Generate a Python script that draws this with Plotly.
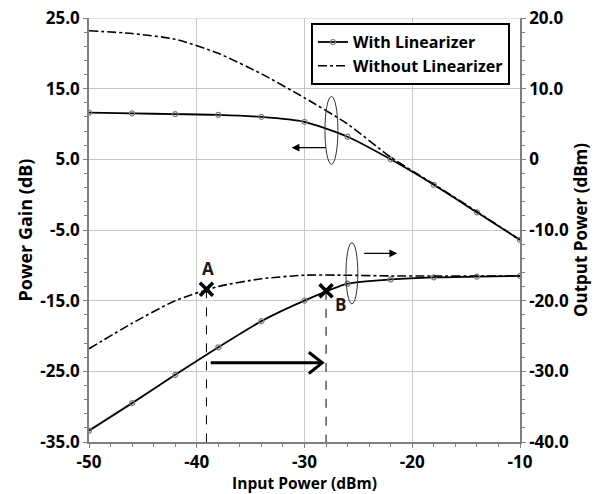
import plotly.graph_objects as go

# ---- data ----
input_power = [-50, -46, -42, -38, -34, -30, -26, -22, -18, -14, -10]

gain_with = [11.6, 11.5, 11.4, 11.3, 11.0, 10.3, 8.2, 5.0, 1.4, -2.5, -6.4]
gain_without = [23.2, 22.8, 22.0, 20.0, 17.1, 13.7, 10.0, 5.3, 1.5, -2.4, -6.4]

out_with = [-38.4, -34.5, -30.5, -26.6, -22.9, -20.0, -17.6, -17.0, -16.7, -16.6, -16.5]
out_without = [-26.8, -23.2, -20.0, -18.0, -16.9, -16.4, -16.4, -16.5, -16.5, -16.5, -16.5]

point_labels = ["A", "B"]
point_x = [-39.1, -28.0]
point_y = [-18.4, -18.6]

left_ticks = [25, 15, 5, -5, -15, -25, -35]
left_ticktext = ["25.0", "15.0", "5.0", "-5.0", "-15.0", "-25.0", "-35.0"]
right_ticks = [20, 10, 0, -10, -20, -30, -40]
right_ticktext = ["20.0", "10.0", "0", "-10.0", "-20.0", "-30.0", "-40.0"]
x_ticks = [-50, -40, -30, -20, -10]

FONT = "Open Sans"
TICK_SIZE = 17
fig = go.Figure()

# Gain curves (left axis)
fig.add_trace(go.Scatter(
    x=input_power, y=gain_with, name="<b>With Linearizer</b>", mode="lines+markers",
    line=dict(color="black", width=1.8, shape="spline", smoothing=0.6),
    marker=dict(symbol="circle-open", size=5, color="#7a7a7a", line=dict(width=1.2)),
    yaxis="y"))
fig.add_trace(go.Scatter(
    x=input_power, y=gain_without, name="<b>Without Linearizer</b>", mode="lines",
    line=dict(color="black", width=1.6, dash="dashdot", shape="spline", smoothing=0.6),
    yaxis="y"))

# Output power curves (right axis)
fig.add_trace(go.Scatter(
    x=input_power, y=out_with, name="With Linearizer", mode="lines+markers",
    line=dict(color="black", width=1.8, shape="spline", smoothing=0.6),
    marker=dict(symbol="circle-open", size=5, color="#7a7a7a", line=dict(width=1.2)),
    yaxis="y2", showlegend=False))
fig.add_trace(go.Scatter(
    x=input_power, y=out_without, name="Without Linearizer", mode="lines",
    line=dict(color="black", width=1.6, dash="dashdot", shape="spline", smoothing=0.6),
    yaxis="y2", showlegend=False))

# A / B points
fig.add_trace(go.Scatter(
    x=point_x, y=point_y, mode="markers", yaxis="y2", showlegend=False,
    marker=dict(symbol="x-thin", size=13, line=dict(color="black", width=3.5))))

shapes = []
# top gridline
shapes.append(dict(type="line", xref="paper", yref="y", x0=0, x1=1, y0=25, y1=25,
                   line=dict(color="#c8c8c8", width=1), layer="below"))
# dashed vertical guides
for px, py in zip(point_x, point_y):
    shapes.append(dict(type="line", xref="x", yref="y2", x0=px, x1=px, y0=py, y1=-40,
                       line=dict(color="black", width=1, dash="dash")))
# ellipses
shapes.append(dict(type="circle", xref="x", yref="y", x0=-28.1, x1=-26.9, y0=4.3, y1=13.9,
                   line=dict(color="#333333", width=1)))
shapes.append(dict(type="circle", xref="x", yref="y2", x0=-26.15, x1=-25.05, y0=-20.45, y1=-11.8,
                   line=dict(color="#333333", width=1)))
# bold arrow with open head
shapes.append(dict(type="line", xref="x", yref="y", x0=-38.7, x1=-28.4, y0=-23.8, y1=-23.8,
                   line=dict(color="black", width=3)))
shapes.append(dict(type="path", xref="x", yref="y",
                   path="M -29.6 -22.3 L -28.35 -23.8 L -29.6 -25.3",
                   line=dict(color="black", width=3)))

annotations = []
# small arrows
annotations.append(dict(x=-31.2, y=6.65, xref="x", yref="y", ax=-27.9, ay=6.65,
                        axref="x", ayref="y", text="", showarrow=True,
                        arrowhead=2, arrowsize=1.3, arrowwidth=1.2, arrowcolor="black"))
annotations.append(dict(x=-21.4, y=-13.3, xref="x", yref="y2", ax=-24.6, ay=-13.3,
                        axref="x", ayref="y2", text="", showarrow=True,
                        arrowhead=2, arrowsize=1.3, arrowwidth=1.2, arrowcolor="black"))
# labels A, B
annotations.append(dict(x=point_x[0] + 0.1, y=point_y[0], xref="x", yref="y2", text="<b>A</b>",
                        showarrow=False, yshift=21, font=dict(family=FONT, size=17, color="#1a1a1a")))
annotations.append(dict(x=point_x[1] + 1.35, y=point_y[1], xref="x", yref="y2", text="<b>B</b>",
                        showarrow=False, yshift=-14, font=dict(family=FONT, size=17, color="#1a1a1a")))

axis_common = dict(showline=True, linecolor="#7f7f7f", linewidth=1.5, ticks="outside",
                   ticklen=4, tickcolor="#7f7f7f", zeroline=False, automargin=False,
                   ticklabeloverflow="allow",
                   tickfont=dict(family=FONT, size=TICK_SIZE, color="black"))

fig.update_layout(
    width=605, height=494,
    margin=dict(l=89, r=85, t=18, b=52),
    paper_bgcolor="white", plot_bgcolor="white",
    font=dict(family=FONT, color="black"),
    shapes=shapes, annotations=annotations,
    xaxis=dict(range=[-50, -10], tickvals=x_ticks, ticktext=["<b>%d</b>" % v for v in x_ticks],
               showgrid=True, gridcolor="#c8c8c8", gridwidth=1,
               minor=dict(dtick=2, tick0=-50, ticks="outside", ticklen=3, tickcolor="#7f7f7f"),
               title=dict(text="<b>Input Power (dBm)</b>", font=dict(family=FONT, size=15.5), standoff=0),
               **axis_common),
    yaxis=dict(range=[-35, 25], tickvals=left_ticks, ticktext=["<b>%s</b>" % t for t in left_ticktext],
               showgrid=True, gridcolor="#c8c8c8", gridwidth=1,
               minor=dict(dtick=2, tick0=25, ticks="outside", ticklen=3, tickcolor="#7f7f7f"),
               title=dict(text="<b>Power Gain (dB)</b>", font=dict(family=FONT, size=18), standoff=3),
               **axis_common),
    yaxis2=dict(range=[-40, 20], overlaying="y", side="right",
                tickvals=right_ticks, ticktext=["<b>%s</b>" % t for t in right_ticktext],
                showgrid=False,
                minor=dict(dtick=2, tick0=20, ticks="outside", ticklen=3, tickcolor="#7f7f7f"),
                title=dict(text="<b>Output Power (dBm)</b>", font=dict(family=FONT, size=17), standoff=6),
                **axis_common),
    legend=dict(x=0.515, y=0.988, xanchor="left", yanchor="top",
                bgcolor="white", bordercolor="black", borderwidth=2,
                font=dict(family=FONT, size=16, color="black"),
                itemwidth=30, tracegroupgap=0),
)

fig.write_html("out.html", config={"displayModeBar": False},
               post_script="document.body.style.margin='0px';document.body.style.padding='0px';")
